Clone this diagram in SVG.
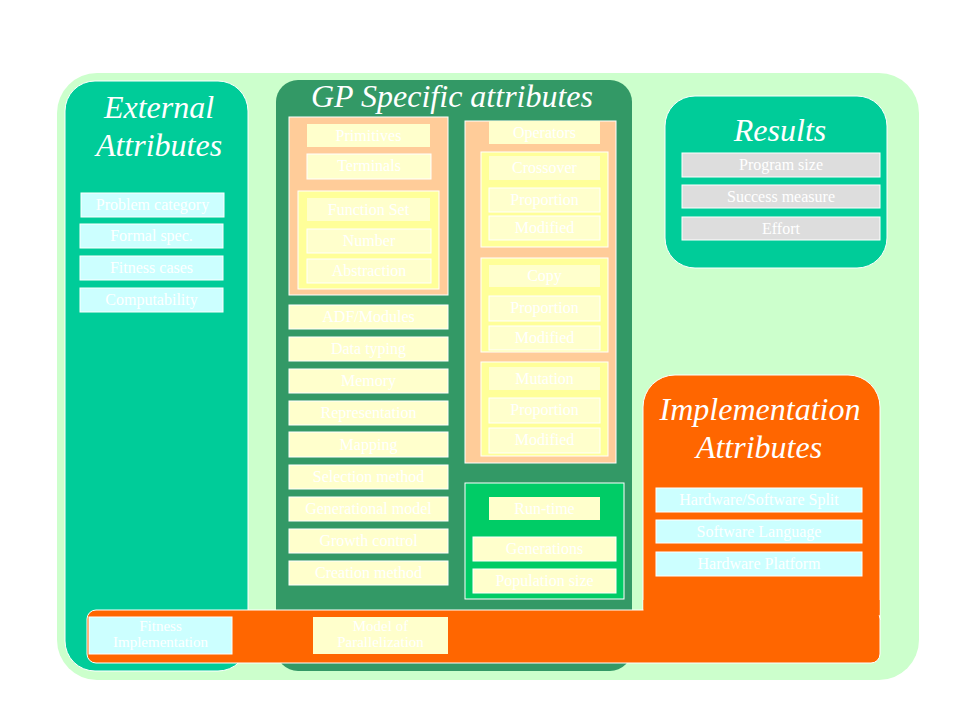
<svg xmlns="http://www.w3.org/2000/svg" width="959" height="719" viewBox="0 0 959 719">
<style>
text{font-family:"Liberation Serif","Times New Roman",serif;fill:#ffffff;text-anchor:middle}
.t{font-size:32px;font-style:italic}
.l{font-size:16px}
.l2{font-size:15px}
.pan{stroke:#ffffff;stroke-width:1}
.b{stroke:#ffffff;stroke-width:1}
.ly{fill:#FFFFCC}
.lc{fill:#CCFFFF}
.lg{fill:#DDDDDD}
.yb{fill:#FFFF99;stroke:#ffffff;stroke-width:1}
.ob{fill:#FFCC99;stroke:#ffffff;stroke-width:1}
</style>
<rect width="959" height="719" fill="#ffffff"/>
<rect x="57" y="73" width="862" height="607" rx="40" fill="#CCFFCC"/>

<g id="external">
<rect class="pan" x="65" y="81" width="183" height="590" rx="30" fill="#00CC99"/>
<text class="t" x="159" y="118">External</text>
<text class="t" x="159" y="156">Attributes</text>
<rect class="lc b" x="81" y="193" width="143" height="24"/><text class="l" x="152.5" y="210">Problem category</text>
<rect class="lc b" x="80" y="224" width="143" height="24"/><text class="l" x="151.5" y="241">Formal spec.</text>
<rect class="lc b" x="80" y="256" width="143" height="24"/><text class="l" x="151.5" y="273">Fitness cases</text>
<rect class="lc b" x="80" y="288" width="143" height="24"/><text class="l" x="151.5" y="305">Computability</text>
</g>

<g id="gp">
<rect x="276" y="80" width="356" height="591" rx="22" fill="#339966"/>
<text class="t" x="452" y="107">GP Specific attributes</text>
<g id="primitives">
<rect class="ob" x="289" y="117" width="159" height="178"/>
<rect class="ly" x="307" y="124" width="123" height="23"/><text class="l" x="368.5" y="141">Primitives</text>
<rect class="ly b" x="307" y="154" width="124" height="25"/><text class="l" x="369" y="171">Terminals</text>
<rect class="yb" x="298" y="191" width="141" height="98"/>
<rect class="ly" x="307" y="198" width="123" height="23"/><text class="l" x="368.5" y="215">Function Set</text>
<rect class="ly b" x="307" y="229" width="124" height="24"/><text class="l" x="369" y="246">Number</text>
<rect class="ly b" x="307" y="259" width="124" height="24"/><text class="l" x="369" y="276">Abstraction</text>
</g>
<g id="gp-list">
<rect class="ly b" x="289" y="305" width="159" height="24"/><text class="l" x="368.5" y="322">ADF/Modules</text>
<rect class="ly b" x="289" y="337" width="159" height="24"/><text class="l" x="368.5" y="354">Data typing</text>
<rect class="ly b" x="289" y="369" width="159" height="24"/><text class="l" x="368.5" y="386">Memory</text>
<rect class="ly b" x="289" y="401" width="159" height="24"/><text class="l" x="368.5" y="418">Representation</text>
<rect class="ly b" x="289" y="432" width="159" height="25"/><text class="l" x="368.5" y="450">Mapping</text>
<rect class="ly b" x="289" y="465" width="159" height="24"/><text class="l" x="368.5" y="482">Selection method</text>
<rect class="ly b" x="289" y="497" width="159" height="24"/><text class="l" x="368.5" y="514">Generational model</text>
<rect class="ly b" x="289" y="529" width="159" height="24"/><text class="l" x="368.5" y="546">Growth control</text>
<rect class="ly b" x="289" y="561" width="159" height="24"/><text class="l" x="368.5" y="578">Creation method</text>
</g>
<g id="operators">
<rect class="ob" x="465" y="121" width="151" height="342"/>
<rect class="ly" x="489" y="121" width="111" height="23"/><text class="l" x="544.5" y="138">Operators</text>
<rect class="yb" x="481" y="152" width="127" height="95"/>
<rect class="ly" x="489" y="156" width="111" height="24"/><text class="l" x="544.5" y="173">Crossover</text>
<rect class="ly b" x="489" y="188" width="111" height="24"/><text class="l" x="544.5" y="205">Proportion</text>
<rect class="ly b" x="489" y="216" width="111" height="24"/><text class="l" x="544.5" y="233">Modified</text>
<rect class="yb" x="481" y="258" width="127" height="94"/>
<rect class="ly" x="489" y="265" width="111" height="22"/><text class="l" x="544.5" y="281">Copy</text>
<rect class="ly b" x="489" y="296" width="111" height="25"/><text class="l" x="544.5" y="313">Proportion</text>
<rect class="ly b" x="489" y="326" width="111" height="24"/><text class="l" x="544.5" y="343">Modified</text>
<rect class="yb" x="481" y="362" width="127" height="94"/>
<rect class="ly" x="489" y="367" width="111" height="23"/><text class="l" x="544.5" y="384">Mutation</text>
<rect class="ly b" x="489" y="398" width="111" height="25"/><text class="l" x="544.5" y="415">Proportion</text>
<rect class="ly b" x="489" y="428" width="111" height="25"/><text class="l" x="544.5" y="445">Modified</text>
</g>
<g id="runtime">
<rect x="465" y="483" width="159" height="116" fill="#00CC66" stroke="#ffffff" stroke-width="1"/>
<rect class="ly" x="489" y="497" width="111" height="23"/><text class="l" x="544.5" y="514">Run-time</text>
<rect class="ly b" x="473" y="537" width="143" height="24"/><text class="l" x="544.5" y="554">Generations</text>
<rect class="ly b" x="473" y="569" width="143" height="24"/><text class="l" x="544.5" y="586">Population size</text>
</g>
</g>

<g id="results">
<rect class="pan" x="665" y="96" width="222" height="172" rx="30" fill="#00CC99"/>
<text class="t" x="780" y="141">Results</text>
<rect class="lg b" x="682" y="153" width="198" height="24"/><text class="l" x="781" y="170">Program size</text>
<rect class="lg b" x="682" y="185" width="198" height="23"/><text class="l" x="781" y="202">Success measure</text>
<rect class="lg b" x="682" y="217" width="198" height="23"/><text class="l" x="781" y="234">Effort</text>
</g>

<g id="implementation">
<path class="pan" d="M643,620 V407 A32,32 0 0 1 675,375 H848 A32,32 0 0 1 880,407 V620 Z" fill="#FF6600"/>
<rect class="pan" x="87" y="610" width="793" height="53" rx="9" fill="#FF6600"/>
<rect x="643.5" y="600" width="236" height="15" fill="#FF6600"/>
<text class="t" x="760" y="420">Implementation</text>
<text class="t" x="759" y="458">Attributes</text>
<rect class="lc b" x="656" y="488" width="206" height="24"/><text class="l" x="759" y="505">Hardware/Software Split</text>
<rect class="lc b" x="656" y="520" width="206" height="23"/><text class="l" x="759" y="537">Software Language</text>
<rect class="lc b" x="656" y="552" width="206" height="24"/><text class="l" x="759" y="569">Hardware Platform</text>
<rect class="lc b" x="89" y="617" width="143" height="37"/>
<text class="l2" x="160.5" y="631">Fitness</text>
<text class="l2" x="160.5" y="647">Implementation</text>
<rect class="ly" x="313" y="617" width="135" height="37"/>
<text class="l2" x="380.5" y="631">Model of</text>
<text class="l2" x="380.5" y="647">Parallelization</text>
</g>
<g id="connectors"/>
</svg>
